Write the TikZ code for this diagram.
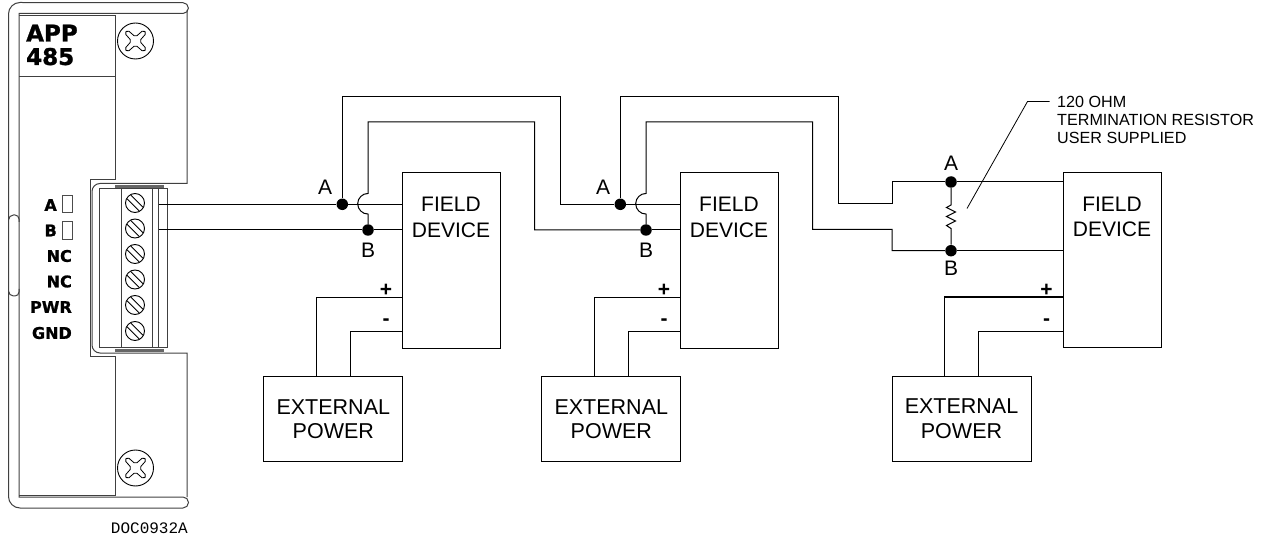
\documentclass[tikz,border=0pt]{standalone}
\usepackage{fontspec}
\setmainfont{Liberation Sans}
\newfontfamily\labelfont[FakeBold=1.2]{DejaVu Sans Bold}
\newfontfamily\docfont{Liberation Mono}

\tikzset{
  wire/.style={line width=1pt,black},
  panel/.style={line width=1pt,black!75},
  thickpanel/.style={line width=3pt,black!60},
  fieldbox/.style={draw,line width=1pt,minimum width=98pt,minimum height=175pt,inner sep=0pt},
  powerbox/.style={draw,line width=1pt,minimum width=139pt,minimum height=85pt,inner sep=0pt,
    align=center,font=\fontsize{21.5}{24.5}\selectfont},
  boxtext/.style={align=center,inner sep=0pt,font=\fontsize{21}{25.5}\selectfont},
  joint/.style={circle,fill=black,inner sep=0pt,minimum size=11.5pt},
  wirename/.style={inner sep=0pt,font=\fontsize{21}{24}\selectfont},
  signname/.style={inner sep=0pt,font=\fontsize{21}{24}\selectfont\bfseries},
  termname/.style={anchor=east,inner sep=0pt,font=\fontsize{16}{18}\selectfont\labelfont},
  ledbox/.style={draw,line width=.8pt,black!70,minimum width=9.5pt,minimum height=17.5pt,inner sep=0pt},
  termscrew/.pic={
    \draw[line width=.9pt] (0,0) circle (9.5);
    \draw[line width=.9pt] (-8,-4.2) -- (4.2,8) (-4.2,-8) -- (8,4.2);
  },
  panelscrew/.pic={
    \draw[line width=.9pt] (0,0) circle (18);
    \draw[line width=.8pt,rounded corners=2pt] (0,-4) -- (8,-11) -- (11,-8) -- (4,0) -- (11,8)
      -- (8,11) -- (0,4) -- (-8,11) -- (-11,8) -- (-4,0) -- (-11,-8) -- (-8,-11) -- cycle;
  }
}

\begin{document}
\begin{tikzpicture}[x=1pt,y=-1pt]
  \useasboundingbox (0,0) rectangle (1267,540);

  % module front
  \draw[panel] (180,13.5) -- (19,13.5) -- (19,497) -- (183,497)
    arc[start angle=-90,end angle=90,radius=5.5] -- (20,508)
    arc[start angle=90,end angle=180,radius=11.5] -- (8.5,14)
    arc[start angle=180,end angle=270,radius=11.5] -- (183,2.7)
    arc[start angle=-90,end angle=90,radius=5.4] -- (180,13.5);
  \draw[panel] (187,10) -- (187,183.5) -- (100,183.5)
    arc[start angle=270,end angle=180,radius=8] -- (92,345)
    arc[start angle=180,end angle=90,radius=8] -- (187,353) -- (187,497);
  \draw[panel] (115,15.5) -- (19,15.5) (19,77) -- (115,77);
  \draw[panel] (19,495.5) -- (115,495.5);
  \draw[panel] (115,15.5) -- (115,179.5) -- (90,179.5) -- (90,356) -- (115,356) -- (115,496);
  \draw[panel] (8.5,220) arc[start angle=180,end angle=270,radius=5] -- (15,215)
    arc[start angle=270,end angle=360,radius=4] -- (19,222);
  \draw[panel] (8.5,291) arc[start angle=180,end angle=90,radius=5] -- (15,296)
    arc[start angle=90,end angle=0,radius=4] -- (19,289);

  \pic at (135.5,41) {panelscrew};
  \pic at (135.5,468) {panelscrew};

  \node[anchor=north west,inner sep=0pt,align=left,font=\fontsize{23}{23.5}\selectfont\labelfont] (apptext) at (26,24.5) {APP\\485};

  % terminal block
  \draw[panel] (99,189) rectangle (167,347.5);
  \draw[panel] (121,189) -- (121,347.5) (152.7,189) -- (152.7,347.5) (158.3,189) -- (158.3,347.5);
  \draw[thickpanel] (115,187) -- (164,187);
  \draw[thickpanel] (115,350) -- (164,350);

  \pic at (135,203) {termscrew};
  \pic at (135,228.5) {termscrew};
  \pic at (135,254) {termscrew};
  \pic at (135,279.5) {termscrew};
  \pic at (135,305) {termscrew};
  \pic at (135,331) {termscrew};

  \node[termname] (terma) at (57,205) {A};
  \node[termname] (termb) at (57,230.5) {B};
  \node[termname] (termnca) at (72,256) {NC};
  \node[termname] (termncb) at (72,281.5) {NC};
  \node[termname] (termpwr) at (72,307) {PWR};
  \node[termname] (termgnd) at (72,333) {GND};
  \node[ledbox] (leda) at (67.3,204) {};
  \node[ledbox] (ledb) at (67.3,230.3) {};

  \node[anchor=base east,inner sep=0pt,font=\fontsize{16}{18}\selectfont\docfont] (doctext) at (188,533) {DOC0932A};

  \coordinate (outa) at (158.5,204.3);
  \coordinate (outb) at (158.5,230);

  % first device
  \node[fieldbox] (field1) at (451,260.5) {};
  \node[boxtext] (fieldtext1) at (451,217.5) {FIELD\\DEVICE};
  \node[powerbox] (power1) at (333.3,419.2) {EXTERNAL\\POWER};
  \node[joint] (a1) at (342.3,204.3) {};
  \node[joint] (b1) at (368,230) {};
  \node[wirename] (namea1) at (325,187) {A};
  \node[wirename] (nameb1) at (368,250) {B};
  \node[signname] (plus1) at (386,290) {+};
  \node[signname] (minus1) at (386,322) {-};
  \coordinate (plusin1) at (402,297.5);
  \coordinate (minusin1) at (402,331.5);
  \draw[wire] (plusin1) -| (power1.north -| 316,0);
  \draw[wire] (minusin1) -| (power1.north -| 350.5,0);

  % second device
  \begin{scope}[xshift=278pt]
    \node[fieldbox] (field2) at (451,260.5) {};
    \node[boxtext] (fieldtext2) at (451,217.5) {FIELD\\DEVICE};
    \node[powerbox] (power2) at (333.3,419.2) {EXTERNAL\\POWER};
    \node[joint] (a2) at (342.3,204.3) {};
    \node[joint] (b2) at (368,230) {};
    \node[wirename] (namea2) at (325,187) {A};
    \node[wirename] (nameb2) at (368,250) {B};
    \node[signname] (plus2) at (386,290) {+};
    \node[signname] (minus2) at (386,322) {-};
    \coordinate (plusin2) at (402,297.5);
    \coordinate (minusin2) at (402,331.5);
    \draw[wire] (plusin2) -| (power2.north -| 316,0);
    \draw[wire] (minusin2) -| (power2.north -| 350.5,0);
  \end{scope}

  % third device
  \node[fieldbox] (field3) at (1112,260) {};
  \node[boxtext] (fieldtext3) at (1112,217) {FIELD\\DEVICE};
  \node[powerbox] (power3) at (961.5,418.5) {EXTERNAL\\POWER};
  \node[joint] (a3) at (951,182) {};
  \node[joint] (b3) at (951,250.7) {};
  \node[wirename] (namea3) at (951,163) {A};
  \node[wirename] (nameb3) at (951,268.5) {B};
  \node[signname] (plus3) at (1046.5,290) {+};
  \node[signname] (minus3) at (1046.5,322) {-};
  \coordinate (plusin3) at (1063,297);
  \coordinate (minusin3) at (1063,331);
  \draw[wire] (plusin3) -| (power3.north -| 944,0);
  \draw[wire] (minusin3) -| (power3.north -| 978.5,0);

  % bus
  \coordinate (over1) at (560,97);
  \coordinate (under1) at (534.7,122);
  \coordinate (over2) at (838.3,97);
  \coordinate (under2) at (812.7,122);
  \coordinate (step1) at (892,203.5);
  \coordinate (step2) at (892,229.5);

  \draw[wire] (outa) -- (a1) -- (field1.west |- a1);
  \draw[wire] (outb) -- (b1) -- (field1.west |- b1);
  \draw[wire] (a1) |- (over1) |- (a2);
  \draw[wire] (a2) -- (field2.west |- a2);
  \draw[wire] (b2) -- (field2.west |- b2);
  \draw[wire] (b1.north) -- ++(0,-10) arc[start angle=90,end angle=270,radius=10.3] |- (under1) |- (b2);
  \draw[wire] (a2) |- (over2) |- (step1) |- (a3);
  \draw[wire] (b2.north) -- ++(0,-10) arc[start angle=90,end angle=270,radius=10.3] |- (under2) |- (step2) |- (b3);
  \draw[wire] (a3) -- (field3.west |- a3);
  \draw[wire] (b3) -- (field3.west |- b3);

  % terminating resistor
  \draw[wire] (a3) -- (951,205) -- (946.5,207.5) -- (955.5,212) -- (946.5,216.5)
    -- (955.5,221) -- (946.5,225.5) -- (951,228.5) -- (b3);
  \node[anchor=north west,inner sep=0pt,align=left,font=\fontsize{16.15}{18}\selectfont] (restext) at (1057,96) {120 OHM\\TERMINATION RESISTOR\\USER SUPPLIED};
  \coordinate (leadtip) at (967,208.5);
  \coordinate (leadbend) at (1027.5,101.5);
  \coordinate (leadend) at (1049.5,101.5);
  \draw[line width=.8pt] (leadtip) -- (leadbend) -- (leadend);
\end{tikzpicture}
\end{document}
